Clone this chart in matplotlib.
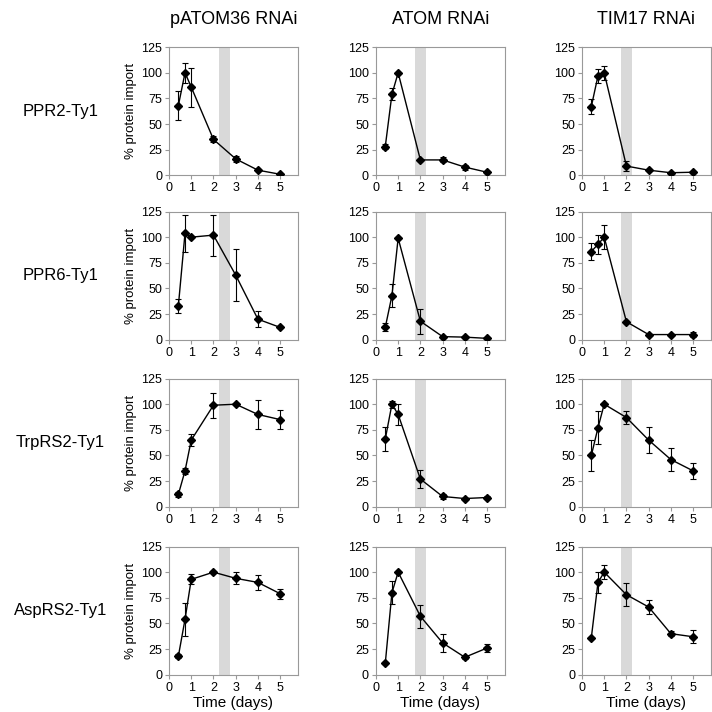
import numpy as np
import matplotlib
matplotlib.use('Agg')
import matplotlib.pyplot as plt

plt.rcParams['font.family'] = ['Liberation Sans', 'DejaVu Sans']

# time points (days)
days = [0.42, 0.72, 1, 2, 3, 4, 5]

col_titles = ['pATOM36 RNAi', 'ATOM RNAi', 'TIM17 RNAi']
row_labels = ['PPR2-Ty1', 'PPR6-Ty1', 'TrpRS2-Ty1', 'AspRS2-Ty1']

# shaded interval per column (days)
shade_start = [2.25, 1.75, 1.75]
shade_end = [2.75, 2.25, 2.25]

# % protein import, rows = proteins, cols = RNAi lines
ppr2_patom36 = [68, 100, 86, 35, 16, 5, 1]
ppr2_patom36_err = [14, 10, 19, 3, 3, 1, 0.5]
ppr2_atom = [28, 79, 100, 15, 15, 8, 3]
ppr2_atom_err = [2.5, 6, 0, 1, 2.5, 2.5, 1]
ppr2_tim17 = [67, 97, 100, 9, 5, 2.5, 3]
ppr2_tim17_err = [7, 7, 7, 4.5, 1, 1, 1]

ppr6_patom36 = [33, 104, 100, 102, 63, 20, 12]
ppr6_patom36_err = [7, 18, 0, 20, 25, 8, 1]
ppr6_atom = [12, 43, 99, 18, 3, 2.5, 1.3]
ppr6_atom_err = [4, 11, 0, 12, 1, 1, 0.5]
ppr6_tim17 = [86, 93, 100, 17.5, 5, 5, 5]
ppr6_tim17_err = [8, 9, 11.5, 1, 1, 1, 2.5]

trprs2_patom36 = [12, 35, 65, 99, 100, 90, 85]
trprs2_patom36_err = [2.5, 3, 6, 12, 1, 14, 9]
trprs2_atom = [66, 100, 90, 27, 10, 8, 9]
trprs2_atom_err = [12, 3.5, 10, 9, 2.7, 1, 1]
trprs2_tim17 = [50, 77, 100, 87, 65, 46, 35]
trprs2_tim17_err = [15, 16, 0, 6, 12.5, 11, 8]

asprs2_patom36 = [18, 54, 93, 100, 94, 90, 79]
asprs2_patom36_err = [2, 16, 5, 1, 6, 7, 5]
asprs2_atom = [11, 80, 100, 57, 31, 17, 26]
asprs2_atom_err = [1, 11, 0, 11, 9, 1.5, 3.7]
asprs2_tim17 = [36, 90, 100, 78, 66, 40, 37]
asprs2_tim17_err = [1, 10, 7, 11, 7, 2.3, 6.3]

values = [
    [ppr2_patom36, ppr2_atom, ppr2_tim17],
    [ppr6_patom36, ppr6_atom, ppr6_tim17],
    [trprs2_patom36, trprs2_atom, trprs2_tim17],
    [asprs2_patom36, asprs2_atom, asprs2_tim17],
]
errors = [
    [ppr2_patom36_err, ppr2_atom_err, ppr2_tim17_err],
    [ppr6_patom36_err, ppr6_atom_err, ppr6_tim17_err],
    [trprs2_patom36_err, trprs2_atom_err, trprs2_tim17_err],
    [asprs2_patom36_err, asprs2_atom_err, asprs2_tim17_err],
]

fig = plt.figure(figsize=(7.12, 7.12), dpi=100)

col_left = [0.2374, 0.528, 0.8174]
row_bottom = [0.7538, 0.5229, 0.2883, 0.0524]
ax_w = 0.181
ax_h = 0.18
spine_col = '#999999'

for r in range(4):
    for c in range(3):
        ax = fig.add_axes([col_left[c], row_bottom[r], ax_w, ax_h])
        ax.axvspan(shade_start[c], shade_end[c], color='#d9d9d9', lw=0, zorder=0)
        ax.errorbar(days, values[r][c], yerr=errors[r][c], color='black',
                    marker='D', markersize=4.5, lw=1, elinewidth=0.8,
                    capsize=2.5, capthick=0.8, zorder=3)
        ax.set_xlim(0, 5.8)
        ax.set_ylim(0, 125)
        ax.set_xticks([0, 1, 2, 3, 4, 5])
        ax.set_yticks([0, 25, 50, 75, 100, 125])
        for s in ax.spines.values():
            s.set_color(spine_col)
            s.set_linewidth(0.8)
        ax.tick_params(direction='out', length=3, width=0.8, color=spine_col,
                       labelsize=9, pad=2)
        if c == 0:
            ax.set_ylabel('% protein import', fontsize=9.5, labelpad=3)
            fig.text(0.085, row_bottom[r] + ax_h * 0.5, row_labels[r],
                     fontsize=12, ha='center', va='center')
        if r == 0:
            fig.text(col_left[c] + ax_w / 2, 0.972, col_titles[c],
                     fontsize=13, ha='center', va='center')
        if r == 3:
            ax.set_xlabel('Time (days)', fontsize=11, labelpad=2)

fig.savefig('out.png', dpi=100)
